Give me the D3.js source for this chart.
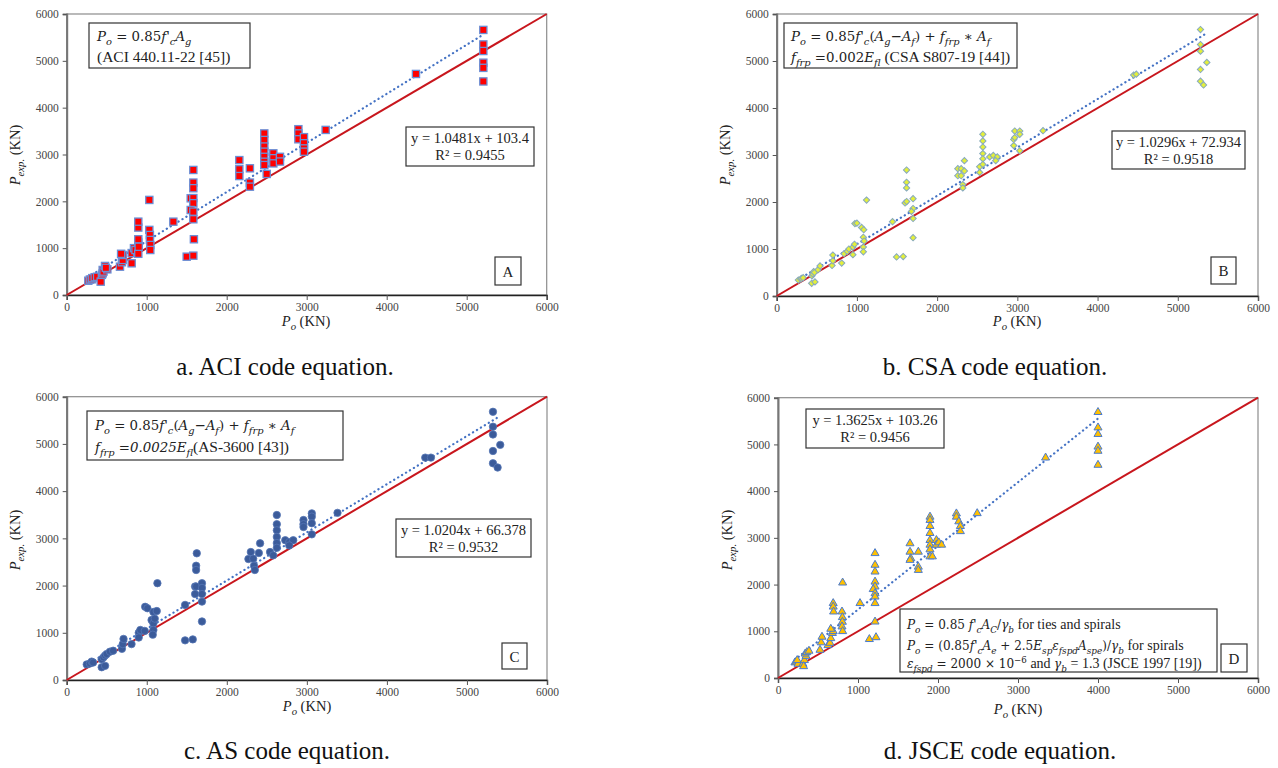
<!DOCTYPE html>
<html><head><meta charset="utf-8">
<script src="https://cdn.jsdelivr.net/npm/d3@7"></script>
<style>body{margin:0;background:#fff}svg{font-family:"Liberation Serif","Times New Roman",serif}</style>
</head><body><svg id="c" width="1278" height="768"></svg>
<script>
// ---------- DATA ----------
const axisTicks = [0, 1000, 2000, 3000, 4000, 5000, 6000];

const poACI = [270,290,312,320,350,380,425,440,450,450,460,479,508,490,666,690,700,700,680,812,812,841,883,860,895,895,895,895,895,900,1033,1033,1040,1040,1045,1045,1333,1500,1583,1583,1583,1583,1550,1583,1583,1550,1583,1583,1590,2158,2158,2158,2290,2290,2290,2470,2470,2470,2470,2470,2470,2470,2500,2583,2583,2583,2666,2666,2896,2896,2896,2966,2966,2966,2966,3237,4366,5208,5208,5208,5208,5208,5208];
const pexpACI = [305,330,335,360,380,390,285,430,463,534,500,620,548,580,605,700,748,855,880,677,895,1000,925,960,1120,1190,1440,1566,880,1030,2030,1390,1281,1175,1068,961,1566,818,840,2670,2400,2280,2065,2070,1960,1815,1780,1617,1190,2880,2685,2540,2705,2400,2313,3450,3310,3170,3060,2950,2845,2775,2585,3025,2920,2810,2950,2850,3540,3450,3325,3370,3240,3130,3060,3525,4720,5660,5350,5210,4960,4850,4560];

const poCSA = [270,300,311,330,436,477,440,450,460,470,515,540,690,700,700,810,840,880,900,950,950,970,975,1000,1058,1085,1120,1080,1090,1080,1080,1444,1494,1577,1619,1619,1619,1600,1620,1700,1700,1680,1700,1700,2258,2258,2300,2300,2340,2340,2320,2320,2530,2530,2570,2570,2570,2570,2570,2570,2655,2700,2750,2730,2955,2955,2968,2968,3030,3030,3030,3320,4450,4483,5283,5283,5283,5362,5283,5283,5321];
const pexpCSA = [340,360,377,390,270,300,430,470,517,500,560,640,650,750,870,700,900,950,1000,880,1040,1100,1540,1550,1460,1410,2040,1250,1170,1040,940,1580,830,840,2680,2420,2300,1980,2010,2070,1860,1800,1650,1240,2710,2560,2560,2710,2880,2660,2370,2300,2750,2630,3440,3300,3170,3030,2920,2800,2960,2990,2960,2880,3330,3200,3510,3370,3510,3440,3090,3517,4700,4720,5670,5350,5210,4970,4820,4570,4490];

const poAS = [250,290,312,330,437,480,437,460,480,500,540,580,690,700,710,810,900,920,975,900,980,1008,1083,1125,1133,1060,1083,1083,1075,1100,1479,1479,1575,1625,1617,1617,1604,1617,1604,1690,1690,1690,1690,1690,2270,2300,2330,2340,2350,2416,2400,2540,2625,2625,2625,2625,2625,2625,2580,2730,2780,2830,2780,2958,2958,2958,3062,3062,3062,3062,3383,4479,4550,5325,5325,5325,5416,5325,5325,5383];
const pexpAS = [330,350,390,370,270,300,440,480,520,550,600,620,660,760,870,760,1000,1060,1040,900,1550,1520,1440,1460,2050,1270,1200,1060,960,1300,1590,840,860,2683,2420,2330,1980,1980,1820,2050,1950,1820,1660,1240,2562,2710,2570,2420,2330,2895,2690,2710,3494,3300,3170,3030,2900,2800,2640,2960,2920,2960,2850,3388,3300,3240,3530,3460,3320,3085,3540,4710,4710,5680,5365,5200,4980,4850,4590,4500];

const poJSCE = [212,230,250,240,312,330,350,340,360,387,320,525,540,550,625,650,660,680,690,660,690,690,695,808,800,805,805,800,808,1025,1142,1225,1213,1213,1213,1213,1213,1190,1213,1213,1213,1213,1650,1650,1660,1650,1754,1754,1754,1900,1900,1900,1900,1900,1900,1900,1900,1930,1980,1980,2010,2045,2230,2230,2260,2280,2280,2490,3345,4000,4000,4000,4000,4000,4000];
const pexpJSCE = [330,350,300,380,300,380,470,520,550,580,250,600,760,880,700,750,850,960,1000,1050,1600,1525,1420,2040,1420,1300,1200,1100,1000,1600,830,870,2670,2420,2275,2060,1955,1900,1810,1740,1600,1205,2880,2700,2560,2525,2700,2380,2310,3450,3380,3250,3100,2950,2850,2750,2600,2600,2950,2850,2900,2850,3520,3450,3350,3250,3140,3525,4716,5690,5360,5220,4950,4860,4560];

const slopes = [1.0481, 1.0296, 1.0204, 1.3625];
const intercepts = ["103.4", "72.934", "66.378", "103.26"];
const rSquared = ["0.9455", "0.9518", "0.9532", "0.9456"];
const panelLetters = ["A", "B", "C", "D"];
const captions = ["a. ACI code equation.", "b. CSA code equation.", "c. AS code equation.", "d. JSCE code equation."];

// ---------- HELPERS ----------
const svg = d3.select("#c");
const MATH = "DejaVu Serif";

// segments: [text, flags] flags: i=italic, s=subscript, p=superscript, t=times (text font) when math mode
function rich(g, x, y, segs, size, anchor, math) {
  const t = g.append("text").attr("x", x).attr("y", y)
    .attr("font-size", size).attr("text-anchor", anchor || "start").attr("fill", "#222");
  let cur = 0;
  segs.forEach(([txt, f = ""]) => {
    const ts = t.append("tspan").text(txt);
    let sz = size;
    if (math && !f.includes("t")) { ts.attr("font-family", MATH); sz = size * 0.86; }
    if (f.includes("i")) ts.attr("font-style", "italic");
    let target = 0;
    if (f.includes("s")) { target = size * 0.28; sz *= 0.74; }
    if (f.includes("p")) { target = -size * 0.38; sz *= 0.72; }
    ts.attr("font-size", sz);
    if (target !== cur) { ts.attr("dy", target - cur); cur = target; }
  });
  return t;
}

function box(g, x, y, w, h) {
  g.append("rect").attr("x", x).attr("y", y).attr("width", w).attr("height", h)
    .attr("fill", "#fff").attr("stroke", "#333").attr("stroke-width", 1.2);
}

// formula texts
const fPo = [["P","i"],["o","is"],[" = 0.85"],["f","i"],["'","i"],["c","is"]];
const fCSA1 = [...fPo, ["("],["A","i"],["g","is"],["−"],["A","i"],["f","is"],[") + "],["f","i"],["frp","is"],[" ∗ "],["A","i"],["f","is"]];

const panels = [
  { x0:66.7, x1:546.7, y0:14, y1:295, xs:poACI, ys:pexpACI, marker:"square",
    form:{x:89,y:23,w:161,h:45,tx:97,base:[41,62],size:15.5,lines:[
      [...fPo, ["A","i"],["g","is"]],
      [["(ACI 440.11-22 [45])","t"]] ]},
    eq:{x:406,y:127,w:128,h:39}, let:{x:495,y:257,w:26,h:28},
    ylab:{x:20,y:155}, xlab:{x:306,y:326}, cap:{x:285,y:375} },
  { x0:776.7, x1:1258, y0:14, y1:296, xs:poCSA, ys:pexpCSA, marker:"diamond",
    form:{x:784,y:23,w:233,h:45,tx:791,base:[41,62],size:15.5,lines:[
      fCSA1,
      [["f","i"],["frp","is"],[" =0.002"],["E","i"],["fl","is"],[" (CSA S807-19 [44])","t"]] ]},
    eq:{x:1112,y:131,w:133,h:38}, let:{x:1211,y:257,w:25,h:27},
    ylab:{x:730,y:155}, xlab:{x:1017,y:326}, cap:{x:995,y:375} },
  { x0:66.7, x1:547, y0:396.7, y1:680, xs:poAS, ys:pexpAS, marker:"circle",
    form:{x:87,y:411,w:256,h:49,tx:95,base:[430,452],size:15.5,lines:[
      fCSA1,
      [["f","i"],["frp","is"],[" ="],["0.0025","i"],["E","i"],["fl","is"],["(AS-3600 [43])","t"]] ]},
    eq:{x:396,y:519,w:135,h:38}, let:{x:502,y:643,w:25,h:26},
    ylab:{x:20,y:540}, xlab:{x:307,y:711}, cap:{x:287,y:759} },
  { x0:778, x1:1258, y0:397.7, y1:678, xs:poJSCE, ys:pexpJSCE, marker:"triangle",
    form:{x:900,y:609,w:317,h:63,tx:907,base:[629,650,668],size:14,lines:[
      [["P","i"],["o","is"],[" = 0.85 "],["f","i"],["'","i"],["c","is"],["A","i"],["C","is"],["/"],["γ","i"],["b","is"],[" for ties and spirals","t"]],
      [["P","i"],["o","is"],[" = (0.85"],["f","i"],["'","i"],["c","is"],["A","i"],["e","is"],[" + 2.5"],["E","i"],["sp","is"],["ε","i"],["fspd","is"],["A","i"],["spe","is"],[")/"],["γ","i"],["b","is"],[" for spirals","t"]],
      [["ε","i"],["fspd","is"],[" = 2000 × 10"],["−6","p"],[" and ","t"],["γ","i"],["b","is"],[" = 1.3","t"],[" (JSCE 1997 [19])","t"]] ]},
    eq:{x:806,y:409,w:138,h:39}, let:{x:1221,y:644,w:26,h:28},
    ylab:{x:732,y:540}, xlab:{x:1018,y:714}, cap:{x:1000,y:759} }
];

panels.forEach((p, i) => {
  const g = svg.append("g");
  const x = d3.scaleLinear().domain([0, 6000]).range([p.x0, p.x1]);
  const y = d3.scaleLinear().domain([0, 6000]).range([p.y1, p.y0]);

  // frame
  g.append("rect").attr("x", p.x0).attr("y", p.y0).attr("width", p.x1 - p.x0).attr("height", p.y1 - p.y0)
    .attr("fill", "none").attr("stroke", "#8c8c8c").attr("stroke-width", 1.2);

  // axes
  const ax = g.append("g").attr("transform", `translate(0,${p.y1})`)
    .call(d3.axisBottom(x).tickValues(axisTicks).tickSize(5).tickPadding(3).tickFormat(d3.format("d")));
  const ay = g.append("g").attr("transform", `translate(${p.x0},0)`)
    .call(d3.axisLeft(y).tickValues(axisTicks).tickSize(4).tickPadding(4).tickFormat(d3.format("d")));
  [ax, ay].forEach(a => {
    a.attr("font-family", "Liberation Serif");
    a.selectAll("text").attr("font-size", 11.5).attr("fill", "#444");
    a.selectAll("line").attr("stroke", "#555");
  });
  ax.select(".domain").attr("stroke", "#222").attr("stroke-width", 1.4);
  ay.select(".domain").attr("stroke", "#777").attr("stroke-width", 2);

  // y = x line
  g.append("line").attr("x1", x(0)).attr("y1", y(0)).attr("x2", x(6000)).attr("y2", y(6000))
    .attr("stroke", "#c8161d").attr("stroke-width", 2);

  // trend line
  const [mn, mx] = d3.extent(p.xs);
  const b = +intercepts[i];
  g.append("line").attr("x1", x(mn)).attr("y1", y(slopes[i] * mn + b))
    .attr("x2", x(mx)).attr("y2", y(slopes[i] * mx + b))
    .attr("stroke", "#4472c4").attr("stroke-width", 2.2).attr("stroke-linecap", "round")
    .attr("stroke-dasharray", "0.2,4.4");

  // points
  const pts = p.xs.map((v, k) => [v, p.ys[k]]);
  const mg = g.append("g");
  if (p.marker === "square") {
    mg.selectAll("rect").data(pts).join("rect")
      .attr("x", d => x(d[0]) - 3.6).attr("y", d => y(d[1]) - 3.6).attr("width", 7.2).attr("height", 7.2)
      .attr("fill", "#ff0000").attr("stroke", "#6b8fd6").attr("stroke-width", 1.3);
  } else if (p.marker === "circle") {
    mg.selectAll("circle").data(pts).join("circle")
      .attr("cx", d => x(d[0])).attr("cy", d => y(d[1])).attr("r", 3.7)
      .attr("fill", "#3b5b9a").attr("stroke", "#5676b5").attr("stroke-width", 0.8);
  } else if (p.marker === "diamond") {
    mg.selectAll("path").data(pts).join("path")
      .attr("transform", d => `translate(${x(d[0])},${y(d[1])}) rotate(45)`)
      .attr("d", d3.symbol(d3.symbolSquare, 20))
      .attr("fill", "#e3ef3a").attr("stroke", "#86a9c0").attr("stroke-width", 1);
  } else {
    mg.selectAll("path").data(pts).join("path")
      .attr("transform", d => `translate(${x(d[0])},${y(d[1])})`)
      .attr("d", d3.symbol(d3.symbolTriangle, 28))
      .attr("fill", "#ffc000").attr("stroke", "#4a7bd0").attr("stroke-width", 1);
  }

  // formula box
  const f = p.form;
  box(g, f.x, f.y, f.w, f.h);
  f.lines.forEach((ln, k) => rich(g, f.tx, f.base[k], ln, f.size, "start", true));

  // equation box
  const e = p.eq;
  box(g, e.x, e.y, e.w, e.h);
  rich(g, e.x + e.w / 2, e.y + 16, [[`y = ${slopes[i]}x + ${intercepts[i]}`]], 14.5, "middle");
  rich(g, e.x + e.w / 2, e.y + 33, [["R² = " + rSquared[i]]], 14.5, "middle");

  // letter box
  const l = p.let;
  box(g, l.x, l.y, l.w, l.h);
  rich(g, l.x + l.w / 2, l.y + l.h / 2 + 5.5, [[panelLetters[i]]], 15, "middle");

  // axis titles
  rich(g, 0, 0, [["P","i"],["exp.","is"],[" (KN)"]], 14.5, "middle")
    .attr("transform", `translate(${p.ylab.x},${p.ylab.y}) rotate(-90)`);
  rich(g, p.xlab.x, p.xlab.y, [["P","i"],["o","is"],[" (KN)"]], 14.5, "middle");

  // caption
  svg.append("text").attr("x", p.cap.x).attr("y", p.cap.y).attr("text-anchor", "middle")
    .attr("font-size", 25).attr("fill", "#111").text(captions[i]);
});
</script></body></html>
